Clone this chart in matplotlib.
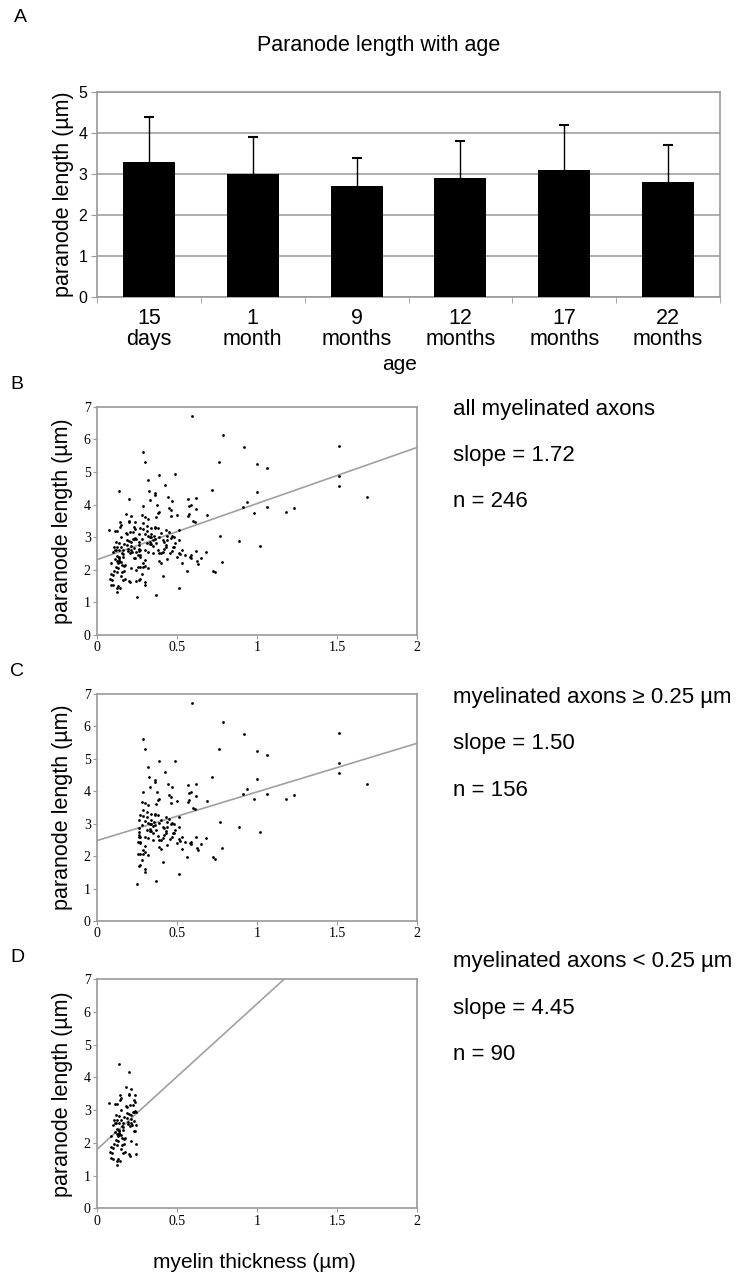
import matplotlib
matplotlib.use('Agg')
import matplotlib.pyplot as plt

# panel A data
ages = ['15\ndays', '1\nmonth', '9\nmonths', '12\nmonths', '17\nmonths', '22\nmonths']
mean_len = [3.3, 3.0, 2.7, 2.9, 3.1, 2.8]
sd_len = [1.1, 0.9, 0.7, 0.9, 1.1, 0.9]

# axons with myelin >= 0.25 um (panel C)
thick_x = [0.596, 0.79, 0.92, 1.51, 0.29, 0.30, 0.76, 1.00, 1.06, 0.49, 0.39, 0.32, 1.51, 1.51,
           0.425, 0.72, 1.00, 0.325, 0.36, 0.365, 1.69, 0.57, 0.62, 0.446, 0.47, 0.94, 1.06, 1.23,
           1.18, 0.915, 0.98, 0.575, 0.59, 0.62, 0.45, 0.46, 0.29, 0.33, 0.375, 0.38, 0.385, 0.50,
           0.69, 0.57, 0.575, 0.46, 0.28, 0.30, 0.32, 0.37, 0.60, 0.61, 0.29, 0.27, 0.29, 0.335,
           0.36, 0.38, 0.43, 0.51, 0.26, 0.30, 0.32, 0.33, 0.355, 0.39, 0.47, 0.48, 0.41, 0.42,
           0.51, 0.77, 0.89, 0.26, 0.26, 0.31, 0.33, 0.37, 0.43, 0.485, 0.475, 0.26, 0.27, 0.30,
           0.32, 0.35, 0.40, 0.41, 0.455, 0.47, 0.51, 0.52, 0.55, 0.585, 0.59, 0.62, 0.65, 0.68,
           1.02, 0.256, 0.27, 0.39, 0.40, 0.44, 0.53, 0.625, 0.63, 0.78, 0.254, 0.27, 0.29, 0.30,
           0.32, 0.28, 0.56, 0.725, 0.735, 0.41, 0.26, 0.27, 0.30, 0.30, 0.51, 0.37, 0.25,
           0.34, 0.36, 0.44, 0.45, 0.31, 0.28, 0.35, 0.42, 0.48, 0.53, 0.35, 0.44, 0.30, 0.38,
           0.27, 0.33, 0.46, 0.40, 0.31, 0.36, 0.43, 0.50, 0.29, 0.34, 0.39, 0.26, 0.58, 0.34]
thick_y = [6.71, 6.14, 5.77, 5.79, 5.60, 5.29, 5.31, 5.24, 5.12, 4.94, 4.92, 4.75, 4.88, 4.57,
           4.59, 4.45, 4.38, 4.43, 4.35, 4.30, 4.22, 4.18, 4.21, 4.22, 4.12, 4.07, 3.93, 3.89,
           3.77, 3.91, 3.75, 3.96, 3.98, 3.86, 3.88, 3.83, 3.97, 4.14, 3.99, 3.73, 3.77, 3.69,
           3.69, 3.66, 3.72, 3.65, 3.67, 3.63, 3.57, 3.61, 3.49, 3.45, 3.42, 3.27, 3.24, 3.29,
           3.28, 3.28, 3.22, 3.21, 3.11, 3.09, 3.03, 3.00, 3.05, 3.01, 3.03, 2.99, 2.91, 2.86,
           2.91, 3.04, 2.89, 2.86, 2.75, 2.81, 2.79, 2.81, 2.76, 2.81, 2.70, 2.65, 2.60, 2.60,
           2.55, 2.50, 2.50, 2.55, 2.52, 2.58, 2.52, 2.48, 2.45, 2.44, 2.37, 2.58, 2.37, 2.56,
           2.73, 2.44, 2.39, 2.27, 2.21, 2.33, 2.22, 2.26, 2.19, 2.24, 2.08, 2.08, 2.08, 2.13,
           2.04, 1.88, 1.97, 1.97, 1.92, 1.82, 1.70, 1.72, 1.61, 1.52, 1.44, 1.24, 1.15,
           3.10, 2.95, 2.90, 3.15, 3.20, 2.95, 2.72, 2.65, 2.70, 2.60, 2.92, 3.05, 2.30, 2.62,
           2.45, 2.85, 2.98, 3.12, 3.35, 3.30, 2.70, 2.40, 2.20, 3.00, 2.50, 2.58, 2.40, 2.78]

# axons with myelin < 0.25 um (panel D)
thin_x = [0.135, 0.20, 0.18, 0.215, 0.20, 0.20, 0.146, 0.148, 0.24, 0.146, 0.077, 0.115, 0.125,
          0.23, 0.24, 0.18, 0.206, 0.15, 0.19, 0.20, 0.23, 0.24, 0.245, 0.12, 0.14, 0.167, 0.104,
          0.123, 0.152, 0.215, 0.233, 0.10, 0.12, 0.14, 0.158, 0.194, 0.204, 0.22, 0.242, 0.127,
          0.14, 0.165, 0.23, 0.24, 0.115, 0.125, 0.14, 0.15, 0.087, 0.158, 0.169, 0.215, 0.246,
          0.106, 0.125, 0.154, 0.17, 0.09, 0.10, 0.081, 0.092, 0.162, 0.177, 0.198, 0.206, 0.245,
          0.085, 0.102, 0.13, 0.144, 0.127, 0.125, 0.13, 0.135, 0.14, 0.11, 0.185, 0.21, 0.16,
          0.13, 0.19, 0.225, 0.175, 0.118, 0.148, 0.21, 0.165, 0.138, 0.195, 0.228]
thin_y = [4.42, 4.17, 3.70, 3.64, 3.50, 3.46, 3.46, 3.38, 3.45, 3.31, 3.22, 3.20, 3.19, 3.30,
          3.24, 3.13, 3.16, 3.01, 2.92, 2.88, 2.93, 2.96, 2.93, 2.84, 2.82, 2.80, 2.71, 2.69,
          2.70, 2.73, 2.68, 2.56, 2.60, 2.60, 2.52, 2.57, 2.52, 2.54, 2.54, 2.43, 2.40, 2.40,
          2.35, 2.35, 2.32, 2.27, 2.27, 2.25, 2.20, 2.16, 2.13, 2.05, 1.98, 1.96, 1.92, 1.92,
          1.97, 1.87, 1.83, 1.73, 1.70, 1.70, 1.73, 1.66, 1.61, 1.65, 1.54, 1.52, 1.50, 1.45,
          1.31, 1.45, 2.22, 2.25, 2.30, 2.62, 2.75, 2.60, 2.48, 2.05, 3.10, 2.95, 2.15, 2.10,
          1.80, 2.85, 2.60, 2.35, 2.65, 3.15]

# fitted lines: intercept, slope
fits = {'B': (2.31, 1.72), 'C': (2.48, 1.50), 'D': (1.80, 4.45)}
labels = {'B': ['all myelinated axons', 'slope = 1.72', 'n = 246'],
          'C': ['myelinated axons \u2265 0.25 \u00b5m', 'slope = 1.50', 'n = 156'],
          'D': ['myelinated axons < 0.25 \u00b5m', 'slope = 4.45', 'n = 90']}

W, H = 739, 1279
fig = plt.figure(figsize=(W / 100, H / 100), dpi=100)
sans = ['Liberation Sans', 'DejaVu Sans']
serif = ['Liberation Serif', 'DejaVu Serif']
gray = '#9a9a9a'


def fx(px):
    return px / W


def fy(py):
    return 1 - py / H


# ---- panel A
ax = fig.add_axes([fx(97), fy(297), fx(720 - 97), fy(92) - fy(297)])
pos = list(range(len(ages)))
tops = [m + s for m, s in zip(mean_len, sd_len)]
ax.bar(pos, mean_len, width=0.5, color='black', zorder=3)
ax.vlines(pos, mean_len, tops, color='black', lw=1, zorder=4)
ax.plot(pos, tops, ls='none', marker='_', ms=7, mew=1.5, color='black', zorder=4)
ax.set_xlim(-0.5, len(ages) - 0.5)
ax.set_ylim(0, 5)
ax.set_yticks(range(6))
ax.yaxis.grid(True, color='#a8a8a8', lw=1.3, zorder=0)
ax.set_xticks(pos)
ax.set_xticks([p - 0.5 for p in pos] + [len(ages) - 0.5], minor=True)
ax.set_xticklabels(ages, fontsize=15.5, family=sans, linespacing=0.98)
ax.tick_params(axis='x', which='major', length=0, pad=8)
ax.tick_params(axis='x', which='minor', length=4, color=gray)
ax.tick_params(axis='y', labelsize=11.5, length=4, color=gray, pad=3)
for lab in ax.get_yticklabels():
    lab.set_family(sans)
for s in ax.spines.values():
    s.set_color(gray)
    s.set_linewidth(1.2)
ax.set_ylabel('paranode length (\u00b5m)', fontsize=15.5, family=sans, labelpad=3)
fig.text(fx(400), fy(364), 'age', fontsize=15, family=sans, ha='center', va='center')
fig.text(fx(379), fy(46), 'Paranode length with age', fontsize=15.5, family=sans,
         ha='center', va='center')
fig.text(fx(20), fy(18), 'A', fontsize=14, family=sans, ha='center', va='center')

# ---- scatter panels
panels = [('B', 406.7, 635, thick_x + thin_x, thick_y + thin_y, 409),
          ('C', 694, 921, thick_x, thick_y, 697),
          ('D', 979.3, 1208.3, thin_x, thin_y, 962)]
for name, top, bot, xs, ys, ty in panels:
    a = fig.add_axes([fx(97), fy(bot), fx(417 - 97), fy(top) - fy(bot)])
    a.scatter(xs, ys, s=4, color='black', zorder=3, linewidths=0)
    b0, b1 = fits[name]
    a.plot([0, 2], [b0, b0 + 2 * b1], color='#a0a0a0', lw=1.2, zorder=2)
    a.set_xlim(0, 2)
    a.set_ylim(0, 7)
    a.set_xticks([0, 0.5, 1, 1.5, 2])
    a.set_xticklabels(['0', '0.5', '1', '1.5', '2'])
    a.set_yticks(range(8))
    a.tick_params(labelsize=10, length=3, color=gray, pad=1.5)
    for lab in a.get_xticklabels() + a.get_yticklabels():
        lab.set_family(serif)
    for s in a.spines.values():
        s.set_color(gray)
        s.set_linewidth(1.2)
    a.set_ylabel('paranode length (\u00b5m)', fontsize=15.5, family=sans, labelpad=8)
    fig.text(fx(17), fy(top - 22), name, fontsize=14, family=sans, ha='center', va='center')
    for i, t in enumerate(labels[name]):
        fig.text(fx(453), fy(ty + 46.5 * i), t, fontsize=16, family=sans,
                 ha='left', va='center')

fig.text(fx(254), fy(1262), 'myelin thickness (\u00b5m)', fontsize=15, family=sans,
         ha='center', va='center')

fig.savefig('out.png', dpi=100)
